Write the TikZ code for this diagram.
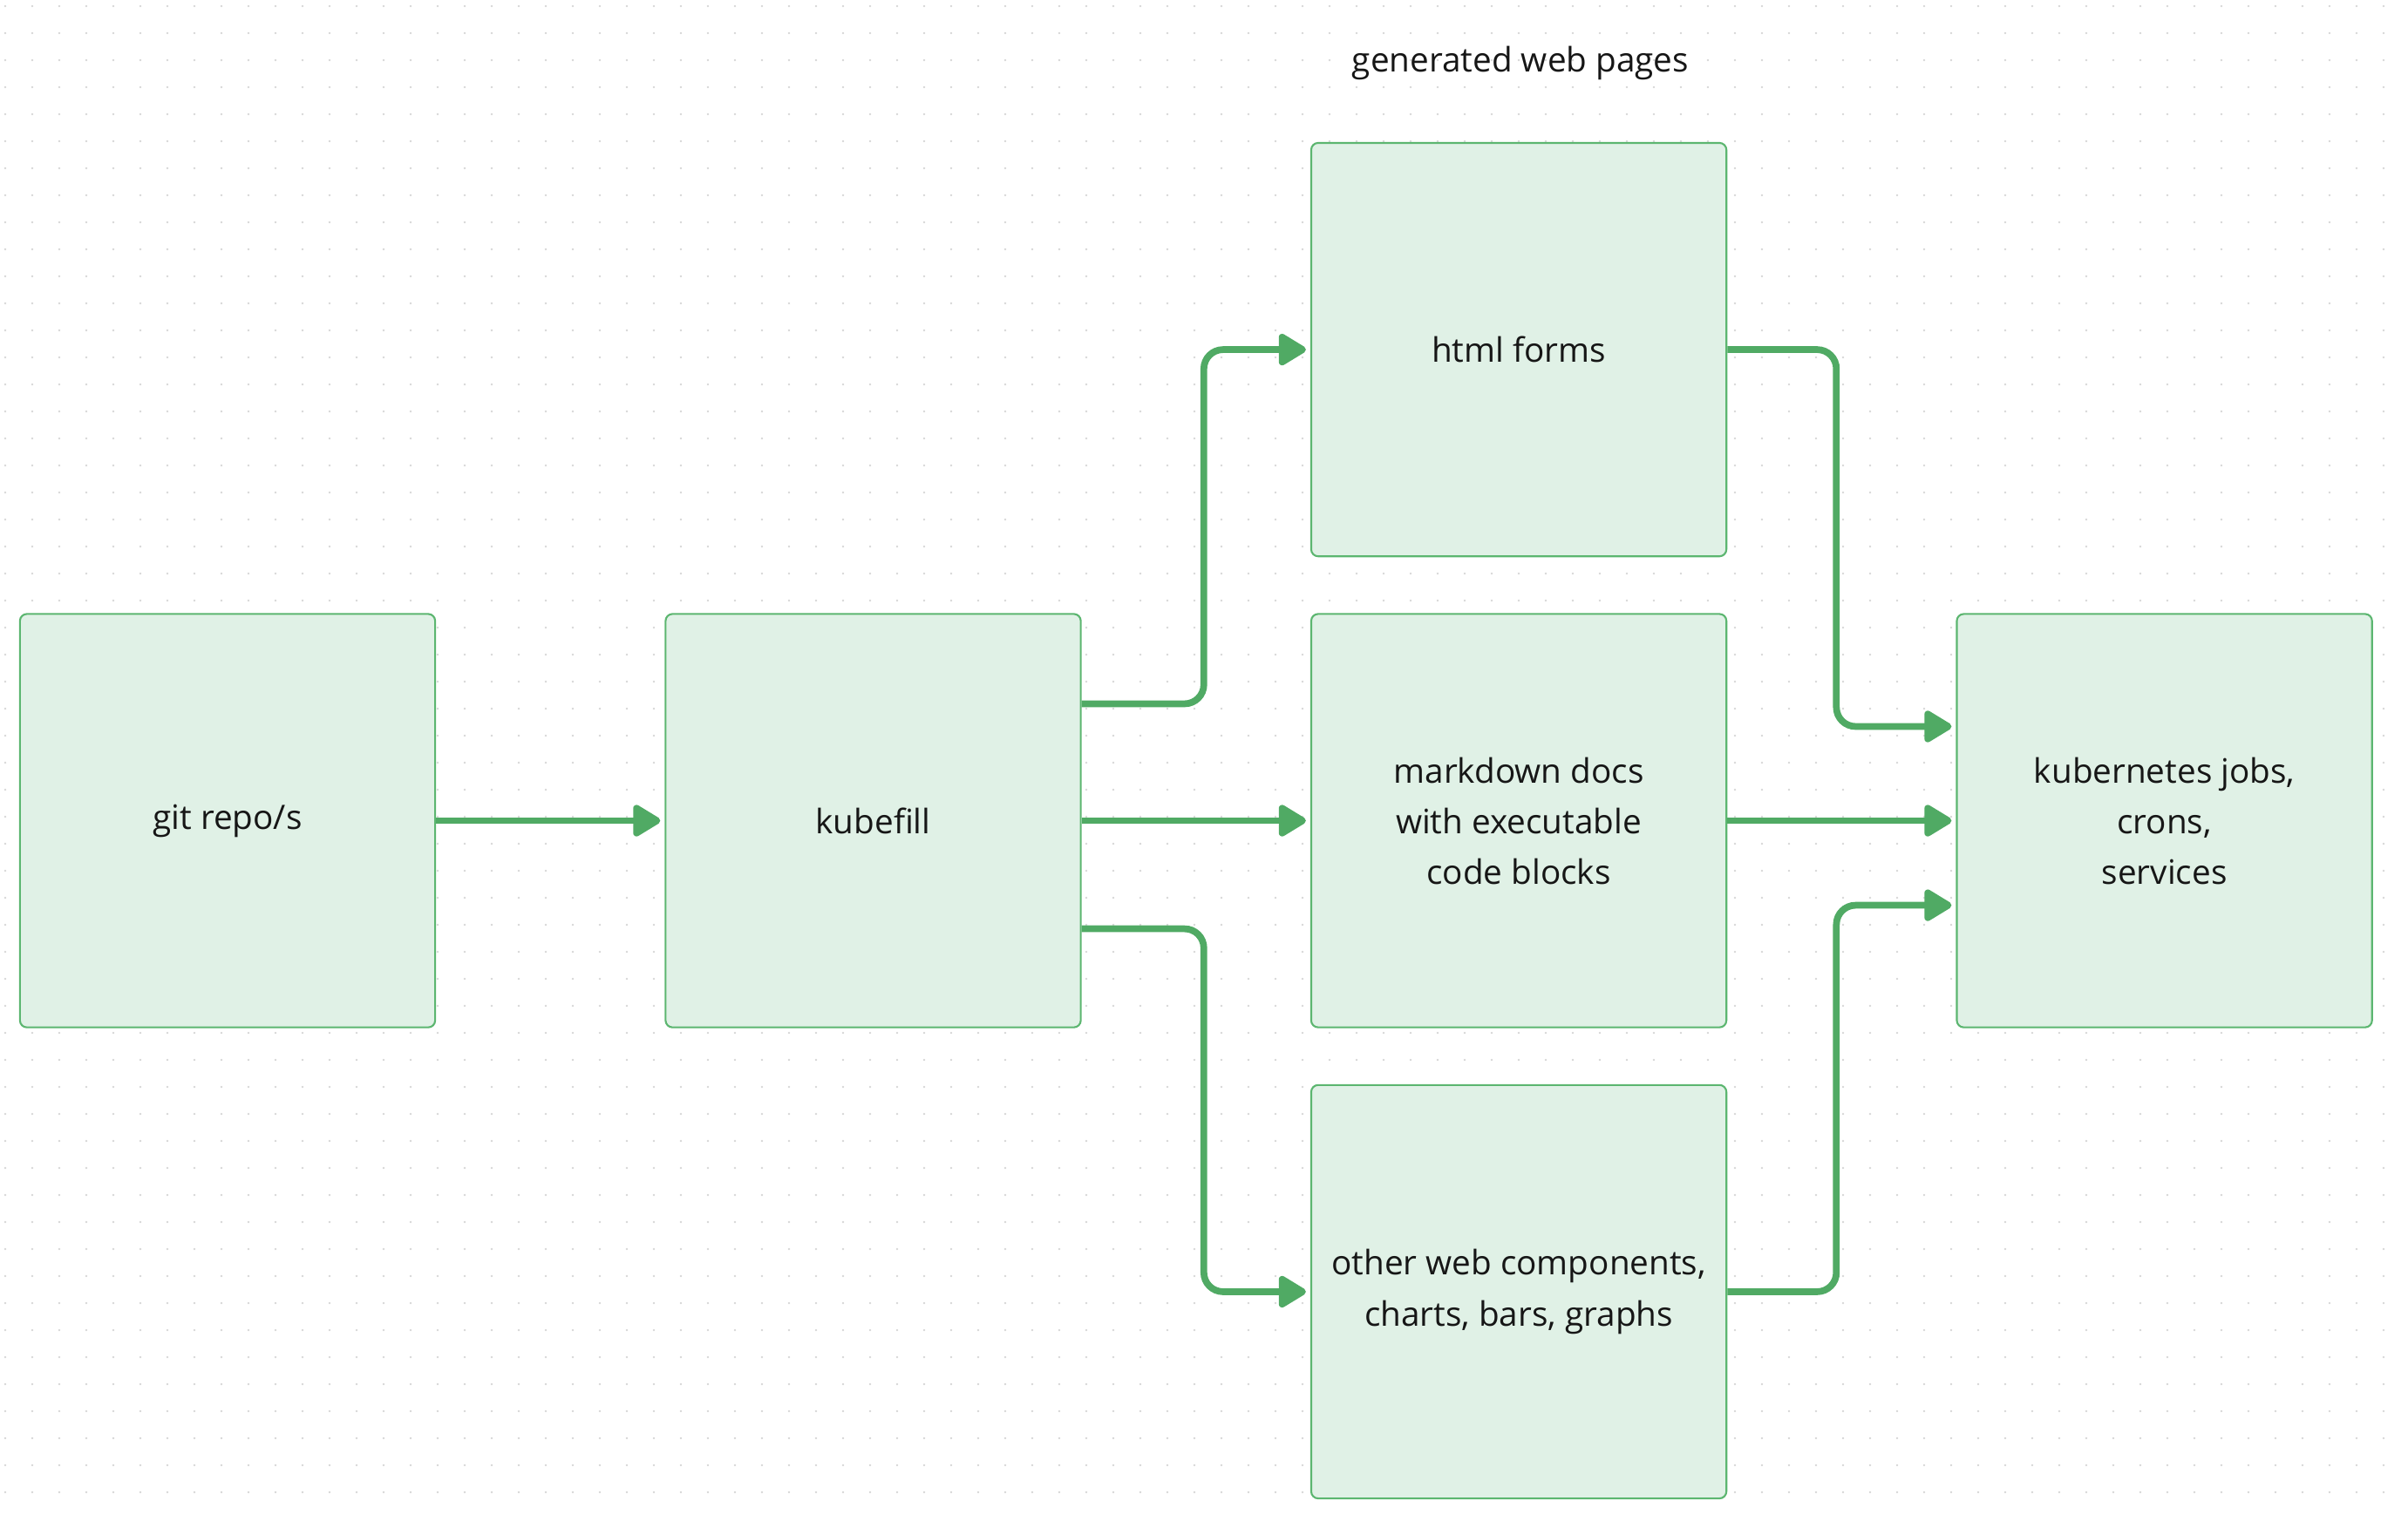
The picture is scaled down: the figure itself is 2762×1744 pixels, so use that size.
\documentclass[tikz,border=0pt]{standalone}
\usepackage{fontspec}
\setmainfont{Open Sans}
\usetikzlibrary{arrows.meta,positioning}
\definecolor{flowgreen}{RGB}{80,170,100}
\definecolor{boxgreen}{RGB}{224,241,230}
\definecolor{edgegreen}{RGB}{92,182,112}
\definecolor{dotgray}{RGB}{214,214,214}
\definecolor{inkblack}{RGB}{22,22,22}

\begin{document}
\begin{tikzpicture}[
      x=0.01cm, y=-0.01cm,
      every node/.style={font=\fontsize{11}{16.5}\selectfont, text=inkblack},
      stage/.style={rectangle, rounded corners=0.08cm, draw=edgegreen, line width=0.6pt,
                    fill=boxgreen, minimum width=4.76cm, minimum height=4.74cm,
                    align=center, inner sep=0pt},
      flow/.style={-{Triangle[length=0.35cm,width=0.40cm,round]}, line width=2.2pt,
                   flowgreen, rounded corners=0.22cm, shorten >=0.05cm},
    ]
    \useasboundingbox (0,0) rectangle (2762,1744);
    % dotted canvas
    \foreach \i in {0,...,88}
      \foreach \j in {0,...,55}
        \fill[dotgray] (6+31*\i,7+31*\j) circle (0.013cm);

    % Pipeline stages
    \node[stage] (git) at (261,941.5) {git repo/s};
    \node[stage, right=2.62cm of git] (kubefill) {kubefill};
    \node[stage, right=2.62cm of kubefill] (markdown) {markdown docs\\ with executable\\ code blocks};
    \node[stage, above=0.64cm of markdown] (html) {html forms};
    \node[stage, below=0.64cm of markdown] (other) {other web components,\\ charts, bars, graphs};
    \node[stage, right=2.62cm of markdown] (kube) {kubernetes jobs,\\ crons,\\ services};

    \node (pages) at (1744,72) {generated web pages};

    % Connectors
    \draw[flow] (git.east) -- (kubefill.west);
    \draw[flow] ([yshift=1.34cm]kubefill.east) -- ++(1.40cm,0) |- (html.west);
    \draw[flow] (kubefill.east) -- (markdown.west);
    \draw[flow] ([yshift=-1.24cm]kubefill.east) -- ++(1.40cm,0) |- (other.west);
    \draw[flow] (html.east) -- ++(1.25cm,0) |- ([yshift=1.08cm]kube.west);
    \draw[flow] (markdown.east) -- (kube.west);
    \draw[flow] (other.east) -- ++(1.25cm,0) |- ([yshift=-0.97cm]kube.west);
  \end{tikzpicture}
\end{document}
